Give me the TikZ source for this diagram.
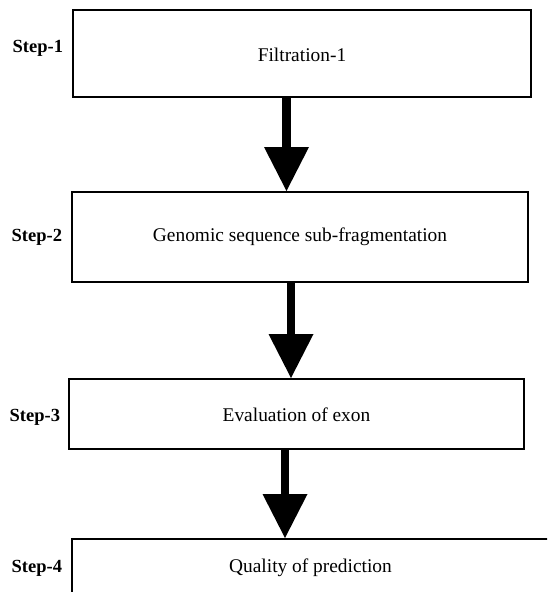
\documentclass[tikz,border=0pt]{standalone}
\usepackage{fontspec}
\setmainfont{Liberation Serif}
\usetikzlibrary{arrows.meta}
\begin{document}
\begin{tikzpicture}[x=1pt,y=1pt,
  box/.style={draw=black,line width=2pt,inner sep=0pt,rectangle},
  txt/.style={anchor=base,inner sep=0pt,font=\fontsize{19.4}{22}\selectfont},
  steplbl/.style={anchor=base west,inner sep=0pt,font=\fontsize{18.5}{22}\selectfont\bfseries},
  flow/.style={line width=8.5pt,-{Triangle[length=44pt,width=45pt,line width=0pt]}}]
\clip (0,0) rectangle (547,-592);
\fill[white] (0,0) rectangle (547,-592);
% boxes
\node[box,minimum width=458,minimum height=87] (b1) at (302,-53.5) {};
\node[box,minimum width=456.5,minimum height=90] (b2) at (299.75,-237) {};
\node[box,minimum width=455,minimum height=70] (b3) at (296.5,-414) {};
\node[box,minimum width=479.5,minimum height=61] (b4) at (311.25,-569.5) {};
% texts
\node[txt] (t1) at (302,-61) {Filtration-1};
\node[txt] (t2) at (300,-241.5) {Genomic sequence sub-fragmentation};
\node[txt] (t3) at (296.5,-421.5) {Evaluation of exon};
\node[txt] (t4) at (310.5,-572) {Quality of prediction};
% step labels
\node[steplbl] (s1) at (12.5,-52.5) {Step-1};
\node[steplbl] (s2) at (11.5,-241) {Step-2};
\node[steplbl] (s3) at (9.5,-421) {Step-3};
\node[steplbl] (s4) at (11.5,-572) {Step-4};
% arrow x positions
\coordinate (x1) at (286.5,0);
\coordinate (x2) at (291,0);
\coordinate (x3) at (285,0);
\draw[flow] (b1.south -| x1) -- (b2.north -| x1);
\draw[flow] (b2.south -| x2) -- (b3.north -| x2);
\draw[flow] (b3.south -| x3) -- (b4.north -| x3);
\end{tikzpicture}
\end{document}
